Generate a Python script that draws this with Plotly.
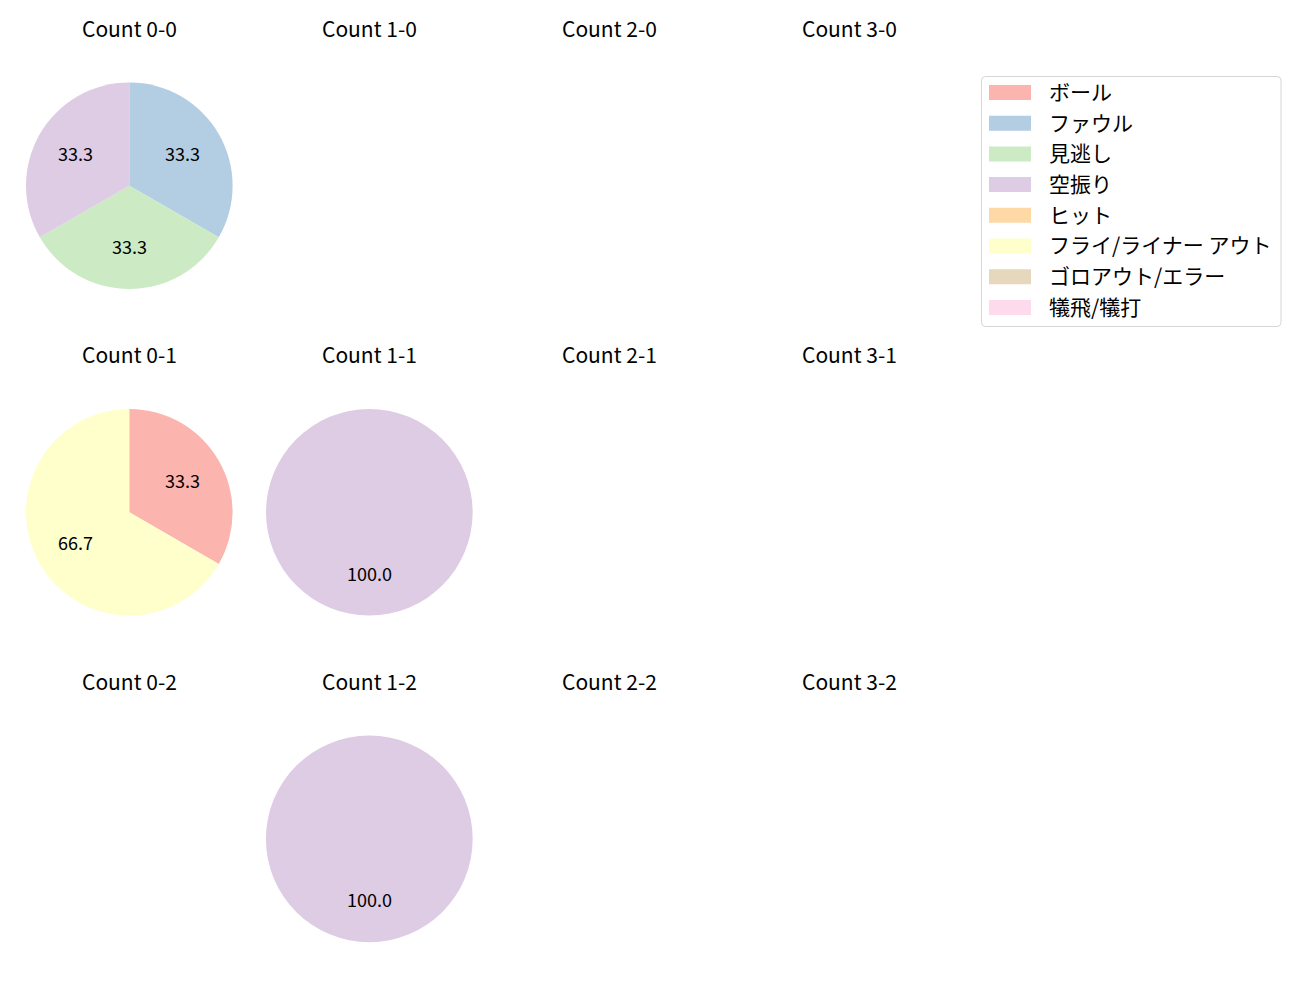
import math
import plotly.graph_objects as go

W, H = 1300, 1000
FONT = "Noto Sans CJK JP"

categories = ["ボール", "ファウル", "見逃し", "空振り", "ヒット",
              "フライ/ライナー アウト", "ゴロアウト/エラー", "犠飛/犠打"]
colors = ["#fbb4ae", "#b3cde3", "#ccebc5", "#decbe4", "#fed9a6",
          "#ffffcc", "#e5d8bd", "#fddaec"]

balls = [0, 1, 2, 3]
strikes = [0, 1, 2]

# counts per (balls, strikes): values aligned with categories
count_0_0 = [0, 1, 1, 1, 0, 0, 0, 0]
count_0_1 = [1, 0, 0, 0, 0, 2, 0, 0]
count_1_1 = [0, 0, 0, 1, 0, 0, 0, 0]
count_1_2 = [0, 0, 0, 1, 0, 0, 0, 0]
data = {(0, 0): count_0_0, (0, 1): count_0_1, (1, 1): count_1_1, (1, 2): count_1_2}

# layout (pixels)
col_cx = [129.3, 369.3, 609.3, 849.3]
row_cy = [185.7, 512.3, 838.9]
R = 103.3
title_dy = 158

fig = go.Figure()
annotations = []
shapes = []

def px(x):
    return x / W

def py(y):
    return 1 - y / H

for si, s in enumerate(strikes):
    for bi, b in enumerate(balls):
        cx, cy = col_cx[bi], row_cy[si]
        annotations.append(dict(
            x=px(cx), y=py(cy - title_dy), xref="paper", yref="paper",
            text=f"Count {b}-{s}", showarrow=False, xanchor="center", yanchor="middle",
            font=dict(family=FONT, size=21, color="#000000")))
        vals = data.get((b, s))
        if not vals or sum(vals) == 0:
            continue
        labs = [c for c, v in zip(categories, vals) if v > 0]
        cols = [c for c, v in zip(colors, vals) if v > 0]
        vv = [v for v in vals if v > 0]
        fig.add_trace(go.Pie(
            labels=labs, values=vv, sort=False, direction="clockwise", rotation=0,
            marker=dict(colors=cols, line=dict(width=0)),
            textinfo="none", hoverinfo="label+percent", showlegend=False,
            domain=dict(x=[px(cx - R), px(cx + R)], y=[py(cy + R), py(cy - R)])))
        total = sum(vv)
        cum = 0
        for v in vv:
            mid = 90 - 360 * (cum + v / 2) / total
            cum += v
            tx = cx + 0.6 * R * math.cos(math.radians(mid))
            ty = cy - 0.6 * R * math.sin(math.radians(mid)) - 1.5
            annotations.append(dict(
                x=px(tx), y=py(ty), xref="paper", yref="paper",
                text=f"{100 * v / total:.1f}", showarrow=False,
                xanchor="center", yanchor="middle",
                font=dict(family=FONT, size=18, color="#000000")))

# legend box
lx0, ly0, lx1, ly1, rr = 981.5, 76.5, 1281, 326.5, 4
path = (f"M {px(lx0 + rr)},{py(ly0)} L {px(lx1 - rr)},{py(ly0)} "
        f"Q {px(lx1)},{py(ly0)} {px(lx1)},{py(ly0 + rr)} "
        f"L {px(lx1)},{py(ly1 - rr)} Q {px(lx1)},{py(ly1)} {px(lx1 - rr)},{py(ly1)} "
        f"L {px(lx0 + rr)},{py(ly1)} Q {px(lx0)},{py(ly1)} {px(lx0)},{py(ly1 - rr)} "
        f"L {px(lx0)},{py(ly0 + rr)} Q {px(lx0)},{py(ly0)} {px(lx0 + rr)},{py(ly0)} Z")
shapes.append(dict(type="path", path=path, xref="paper", yref="paper",
                   line=dict(color="#d6d6d6", width=1), fillcolor="rgba(255,255,255,0.8)"))
for i, (c, col) in enumerate(zip(categories, colors)):
    top = 85 + i * 30.7
    shapes.append(dict(type="rect", xref="paper", yref="paper",
                       x0=px(989), x1=px(1031), y0=py(top + 15), y1=py(top),
                       fillcolor=col, line=dict(width=0)))
    annotations.append(dict(
        x=px(1047), y=py(top + 6), xref="paper", yref="paper",
        text=c, showarrow=False, xanchor="left", yanchor="middle",
        font=dict(family=FONT, size=21, color="#000000")))

fig.update_layout(
    width=W, height=H, margin=dict(l=0, r=0, t=0, b=0),
    paper_bgcolor="white", plot_bgcolor="white",
    annotations=annotations, shapes=shapes, showlegend=False,
    font=dict(family=FONT))

fig.write_html("out.html")
